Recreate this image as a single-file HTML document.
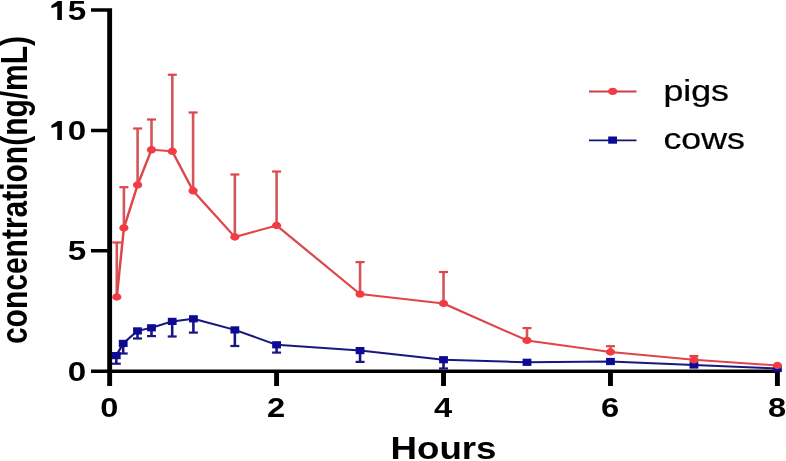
<!DOCTYPE html>
<html><head><meta charset="utf-8"><style>
html,body{margin:0;padding:0;background:#fff;width:786px;height:461px;overflow:hidden}
svg{display:block;filter:blur(0.4px)}
text{font-family:"Liberation Sans",sans-serif}
.t{font-weight:bold;font-size:27.8px;fill:#000}
.ty{font-weight:bold;font-size:28px;fill:#000}
.ax{font-weight:bold;font-size:30px;fill:#000}
.lg{font-size:29.5px;fill:#000;stroke:#000;stroke-width:0.25px}
</style></head><body>
<svg width="786" height="461" viewBox="0 0 628.8 461" preserveAspectRatio="none">
<path d="M85.76,8.3h3.92v377.7h-3.92ZM72.8,8.3h14.92v3.5h-14.92ZM72.8,128.7h14.92v3.5h-14.92ZM72.8,249.1h14.92v3.5h-14.92ZM72.8,369.55h551.09v3.5h-551.09ZM219.31,371h3.92v15h-3.92ZM352.86,371h3.92v15h-3.92ZM486.42,371h3.92v15h-3.92ZM619.97,371h3.92v15h-3.92Z" fill="#000"/>
<text transform="translate(68.96,20.05) scale(0.95,1)" text-anchor="end" class="ty">5</text>
<path d="M49.52,20.05 L49.52,1.05 L46.24,1.05 L41.12,5.45 L41.12,8.15 L45.84,6.35 L45.84,20.05 Z" fill="#000"/>
<text transform="translate(68.96,139.9) scale(0.95,1)" text-anchor="end" class="ty">0</text>
<path d="M49.52,139.9 L49.52,120.9 L46.24,120.9 L41.12,125.3 L41.12,128 L45.84,126.2 L45.84,139.9 Z" fill="#000"/>
<text transform="translate(68.96,260.15) scale(0.95,1)" text-anchor="end" class="ty">5</text>
<text transform="translate(68.96,380.6) scale(0.95,1)" text-anchor="end" class="ty">0</text>
<text transform="translate(87.4,416.6) scale(0.94,1)" text-anchor="middle" class="t">0</text>
<text transform="translate(220.95,416.6) scale(0.94,1)" text-anchor="middle" class="t">2</text>
<text transform="translate(354.5,416.6) scale(0.94,1)" text-anchor="middle" class="t">4</text>
<text transform="translate(488.06,416.6) scale(0.94,1)" text-anchor="middle" class="t">6</text>
<text transform="translate(621.61,416.6) scale(0.94,1)" text-anchor="middle" class="t">8</text>
<text transform="translate(354.8,459) scale(0.96,1)" text-anchor="middle" class="ax" style="font-size:30.6px">Hours</text>
<text transform="translate(21.84,190) rotate(-90)" text-anchor="middle" class="ax">concentration(ng/mL)</text>
<rect x="92.0" y="355.6" width="2.08" height="8.1" fill="#1a1880"/>
<rect x="89.44" y="362.6" width="7.2" height="2.2" fill="#1a1880"/>
<rect x="97.52" y="343.4" width="2.08" height="10.1" fill="#1a1880"/>
<rect x="94.96" y="352.4" width="7.2" height="2.2" fill="#1a1880"/>
<rect x="108.96" y="330.9" width="2.08" height="7.6" fill="#1a1880"/>
<rect x="106.4" y="337.4" width="7.2" height="2.2" fill="#1a1880"/>
<rect x="120.16" y="327.8" width="2.08" height="8.3" fill="#1a1880"/>
<rect x="117.6" y="335.0" width="7.2" height="2.2" fill="#1a1880"/>
<rect x="136.72" y="321.4" width="2.08" height="15.1" fill="#1a1880"/>
<rect x="134.16" y="335.4" width="7.2" height="2.2" fill="#1a1880"/>
<rect x="153.68" y="318.8" width="2.08" height="13.8" fill="#1a1880"/>
<rect x="151.12" y="331.5" width="7.2" height="2.2" fill="#1a1880"/>
<rect x="186.84" y="329.9" width="2.08" height="16.1" fill="#1a1880"/>
<rect x="184.28" y="344.9" width="7.2" height="2.2" fill="#1a1880"/>
<rect x="220.23" y="344.8" width="2.08" height="7.8" fill="#1a1880"/>
<rect x="217.67" y="351.5" width="7.2" height="2.2" fill="#1a1880"/>
<rect x="287.01" y="350.6" width="2.08" height="11.3" fill="#1a1880"/>
<rect x="284.45" y="360.8" width="7.2" height="2.2" fill="#1a1880"/>
<rect x="353.78" y="359.7" width="2.08" height="8.8" fill="#1a1880"/>
<rect x="351.22" y="367.4" width="7.2" height="2.2" fill="#1a1880"/>
<polyline points="93.04,355.6 98.56,343.4 110.0,330.9 121.2,327.8 137.76,321.4 154.72,318.8 187.88,329.9 221.27,344.8 288.05,350.6 354.82,359.7 421.6,362.3 488.38,361.5 555.15,365.0 621.93,368.5" fill="none" stroke="#1a1880" stroke-width="2.0" stroke-linejoin="round"/>
<rect x="89.52" y="352.0" width="7.04" height="7.2" fill="#0d0b94"/>
<rect x="95.04" y="339.8" width="7.04" height="7.2" fill="#0d0b94"/>
<rect x="106.48" y="327.3" width="7.04" height="7.2" fill="#0d0b94"/>
<rect x="117.68" y="324.2" width="7.04" height="7.2" fill="#0d0b94"/>
<rect x="134.24" y="317.8" width="7.04" height="7.2" fill="#0d0b94"/>
<rect x="151.2" y="315.2" width="7.04" height="7.2" fill="#0d0b94"/>
<rect x="184.36" y="326.3" width="7.04" height="7.2" fill="#0d0b94"/>
<rect x="217.75" y="341.2" width="7.04" height="7.2" fill="#0d0b94"/>
<rect x="284.53" y="347.0" width="7.04" height="7.2" fill="#0d0b94"/>
<rect x="351.3" y="356.1" width="7.04" height="7.2" fill="#0d0b94"/>
<rect x="418.08" y="358.7" width="7.04" height="7.2" fill="#0d0b94"/>
<rect x="484.86" y="357.9" width="7.04" height="7.2" fill="#0d0b94"/>
<rect x="551.63" y="361.4" width="7.04" height="7.2" fill="#0d0b94"/>
<rect x="618.41" y="364.9" width="7.04" height="7.2" fill="#0d0b94"/>
<rect x="92.4" y="242.5" width="2.08" height="54.5" fill="#d2565b"/>
<rect x="89.84" y="241.4" width="7.2" height="2.2" fill="#de4649"/>
<rect x="98.08" y="187.2" width="2.08" height="40.7" fill="#d2565b"/>
<rect x="95.52" y="186.1" width="7.2" height="2.2" fill="#de4649"/>
<rect x="109.04" y="128.5" width="2.08" height="56.4" fill="#d2565b"/>
<rect x="106.48" y="127.4" width="7.2" height="2.2" fill="#de4649"/>
<rect x="120.16" y="119.5" width="2.08" height="30.3" fill="#d2565b"/>
<rect x="117.6" y="118.4" width="7.2" height="2.2" fill="#de4649"/>
<rect x="136.8" y="74.75" width="2.08" height="76.55" fill="#d2565b"/>
<rect x="134.24" y="73.65" width="7.2" height="2.2" fill="#de4649"/>
<rect x="153.44" y="112.5" width="2.08" height="78.3" fill="#d2565b"/>
<rect x="150.88" y="111.4" width="7.2" height="2.2" fill="#de4649"/>
<rect x="186.84" y="174.5" width="2.08" height="62.5" fill="#d2565b"/>
<rect x="184.28" y="173.4" width="7.2" height="2.2" fill="#de4649"/>
<rect x="220.23" y="171.5" width="2.08" height="54.0" fill="#d2565b"/>
<rect x="217.67" y="170.4" width="7.2" height="2.2" fill="#de4649"/>
<rect x="287.01" y="262.1" width="2.08" height="32.0" fill="#d2565b"/>
<rect x="284.45" y="261.0" width="7.2" height="2.2" fill="#de4649"/>
<rect x="353.78" y="272.0" width="2.08" height="31.5" fill="#d2565b"/>
<rect x="351.22" y="270.9" width="7.2" height="2.2" fill="#de4649"/>
<rect x="420.56" y="328.1" width="2.08" height="12.3" fill="#d2565b"/>
<rect x="418.0" y="327.0" width="7.2" height="2.2" fill="#de4649"/>
<rect x="487.34" y="346.2" width="2.08" height="5.8" fill="#d2565b"/>
<rect x="484.78" y="345.1" width="7.2" height="2.2" fill="#de4649"/>
<rect x="554.11" y="356.0" width="2.08" height="3.8" fill="#d2565b"/>
<rect x="551.55" y="354.9" width="7.2" height="2.2" fill="#de4649"/>
<polyline points="93.44,297.0 99.12,227.9 110.08,184.9 121.2,149.8 137.84,151.3 154.48,190.8 187.88,237.0 221.27,225.5 288.05,294.1 354.82,303.5 421.6,340.4 488.38,352.0 555.15,359.8 621.93,365.5" fill="none" stroke="#de4649" stroke-width="2.0" stroke-linejoin="round"/>
<ellipse cx="93.44" cy="297.0" rx="3.68" ry="3.7" fill="#f03c42"/>
<ellipse cx="99.12" cy="227.9" rx="3.68" ry="3.7" fill="#f03c42"/>
<ellipse cx="110.08" cy="184.9" rx="3.68" ry="3.7" fill="#f03c42"/>
<ellipse cx="121.2" cy="149.8" rx="3.68" ry="3.7" fill="#f03c42"/>
<ellipse cx="137.84" cy="151.3" rx="3.68" ry="3.7" fill="#f03c42"/>
<ellipse cx="154.48" cy="190.8" rx="3.68" ry="3.7" fill="#f03c42"/>
<ellipse cx="187.88" cy="237.0" rx="3.68" ry="3.7" fill="#f03c42"/>
<ellipse cx="221.27" cy="225.5" rx="3.68" ry="3.7" fill="#f03c42"/>
<ellipse cx="288.05" cy="294.1" rx="3.68" ry="3.7" fill="#f03c42"/>
<ellipse cx="354.82" cy="303.5" rx="3.68" ry="3.7" fill="#f03c42"/>
<ellipse cx="421.6" cy="340.4" rx="3.68" ry="3.7" fill="#f03c42"/>
<ellipse cx="488.38" cy="352.0" rx="3.68" ry="3.7" fill="#f03c42"/>
<ellipse cx="555.15" cy="359.8" rx="3.68" ry="3.7" fill="#f03c42"/>
<ellipse cx="621.93" cy="365.5" rx="3.68" ry="3.7" fill="#f03c42"/>
<line x1="471.2" y1="91.5" x2="509.2" y2="91.5" stroke="#cc3e45" stroke-width="1.8"/>
<ellipse cx="490.16" cy="91.4" rx="3.68" ry="3.7" fill="#f03c42"/>
<line x1="471.2" y1="140.4" x2="509.2" y2="140.4" stroke="#161670" stroke-width="1.9"/>
<rect x="486.56" y="136.5" width="7.04" height="7.2" fill="#0d0b94"/>
<text transform="translate(530.72,100.8) scale(0.97,1)" class="lg">pigs</text>
<text transform="translate(530.72,148.8) scale(0.97,1)" class="lg">cows</text>
</svg>
</body></html>
